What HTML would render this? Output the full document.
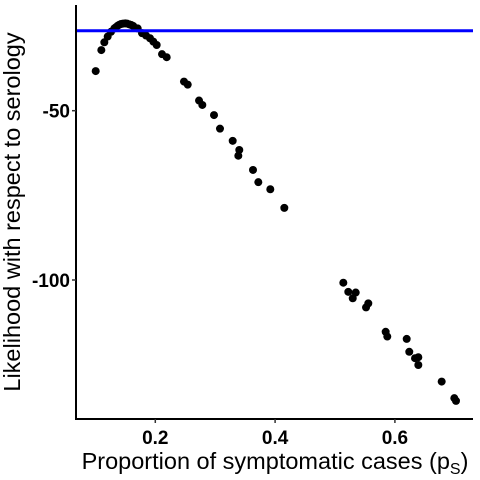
<!DOCTYPE html>
<html><head><meta charset="utf-8"><style>
body{margin:0;background:#fff;}
svg{display:block;font-family:"Liberation Sans",Arial,sans-serif;}
</style></head><body>
<svg id="chart" width="480" height="480">
<g id="plot"></g>
<text x="20" y="212" transform="rotate(-90 20 212)" text-anchor="middle" font-size="23.5" fill="#000">Likelihood with respect to serology</text>
<text x="275" y="469" text-anchor="middle" font-size="23.5" fill="#000">Proportion of symptomatic cases (p<tspan font-size="16" dy="5">S</tspan><tspan dy="-5">)</tspan></text>
</svg>
<script>
const xVals=[0.1005,0.1099,0.1149,0.1205,0.1260,0.1316,0.1372,0.1427,0.1499,0.1566,0.1633,0.1706,0.1778,0.1845,0.1912,0.1967,0.2023,0.2112,0.2190,0.2479,0.2541,0.2730,0.2785,0.2980,0.3080,0.3292,0.3402,0.3386,0.3631,0.3720,0.3920,0.4154,0.5139,0.5222,0.5346,0.5296,0.5556,0.5518,0.5846,0.5873,0.6197,0.6240,0.6391,0.6336,0.6391,0.6781,0.6992,0.7020,0.1400,0.1460,0.1530,0.1600,0.1345];
const yVals=[-38.3,-32.1,-29.8,-28.1,-26.7,-25.7,-24.9,-24.4,-24.2,-24.5,-25.0,-25.7,-27.1,-27.8,-28.6,-29.6,-30.6,-33.3,-34.2,-41.4,-42.3,-47.0,-48.3,-51.3,-55.3,-58.9,-61.6,-63.3,-67.5,-71.1,-73.2,-78.7,-100.8,-103.5,-103.7,-105.4,-106.9,-108.1,-115.3,-116.7,-117.4,-121.2,-122.8,-123.1,-125.1,-130.0,-134.9,-135.7,-24.6,-24.3,-24.3,-24.7,-25.3];
const refLine=[-26.4];
const xTicks=[0.2,0.4,0.6];
const xTickLabels=["0.2","0.4","0.6"];
const yTicks=[-50,-100];
const yTickLabels=["-50","-100"];
const NS="http://www.w3.org/2000/svg";
const X=v=>35.5+v*599;
const Y=v=>-58.6-v*3.386;
const g=document.getElementById('plot');
function mk(t,a){const e=document.createElementNS(NS,t);for(const k in a)e.setAttribute(k,a[k]);g.appendChild(e);return e;}
for(let i=0;i<xVals.length;i++){
 const c=mk('circle',{cx:X(xVals[i]),cy:Y(yVals[i]),r:4,fill:'#000'});
 
 
}
const bl=mk('line',{x1:76,x2:473,y1:Y(refLine[0]),y2:Y(refLine[0]),stroke:'#0000ff','stroke-width':3});


const ya=mk('line',{x1:76,x2:76,y1:5,y2:420,stroke:'#000','stroke-width':2});


const xa=mk('line',{x1:75,x2:473,y1:419,y2:419,stroke:'#000','stroke-width':2});


xTicks.forEach((v,i)=>{
 const t=mk('line',{x1:X(v),x2:X(v),y1:419,y2:423,stroke:'#333','stroke-width':1.5});
 
 
 const l=mk('text',{x:X(v),y:444,'text-anchor':'middle','font-size':19,'font-weight':'bold',fill:'#000'});
 l.textContent=xTickLabels[i];
 
 
});
yTicks.forEach((v,i)=>{
 const t=mk('line',{x1:72,x2:76,y1:Y(v),y2:Y(v),stroke:'#333','stroke-width':1.5});
 
 
 const l=mk('text',{x:70,y:Y(v)+7,'text-anchor':'end','font-size':19,'font-weight':'bold',fill:'#000'});
 l.textContent=yTickLabels[i];
 
 
});
</script>
</body></html>
